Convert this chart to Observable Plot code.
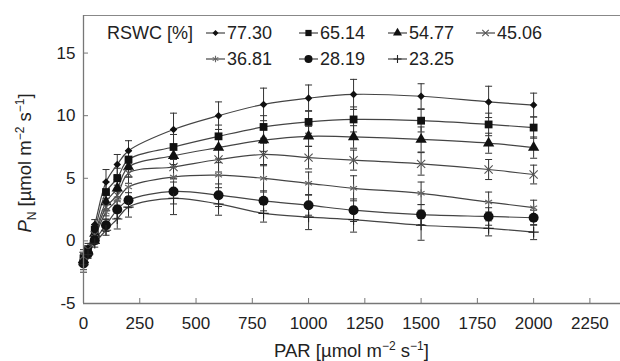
<!DOCTYPE html>
<html><head><meta charset="utf-8">
<script src="https://cdn.jsdelivr.net/npm/d3@7"></script>
<script src="https://cdn.jsdelivr.net/npm/@observablehq/plot@0.6"></script>
<style>
body{margin:0;background:#fff;font-family:"Liberation Sans",Arial,sans-serif;}
#chart svg{display:block;}
</style></head><body><div id="chart"></div>
<script>
// ---- data ----
const par = [0, 20, 50, 100, 150, 200, 400, 600, 800, 1000, 1200, 1500, 1800, 2000];
const seriesNames = ["77.30", "65.14", "54.77", "45.06", "36.81", "28.19", "23.25"];
const pn7730 = [-1.3, -0.6, 1.3, 4.7, 6.1, 7.2, 8.9, 10.0, 10.9, 11.4, 11.7, 11.55, 11.1, 10.85];
const pn6514 = [-1.4, -0.7, 0.9, 3.9, 5.0, 6.5, 7.5, 8.35, 9.1, 9.5, 9.7, 9.6, 9.3, 9.05];
const pn5477 = [-1.5, -0.8, 0.6, 3.1, 4.2, 5.9, 6.8, 7.45, 8.05, 8.35, 8.3, 8.1, 7.8, 7.45];
const pn4506 = [-1.2, -0.7, 0.45, 2.7, 3.65, 5.4, 5.9, 6.5, 6.9, 6.65, 6.45, 6.15, 5.7, 5.3];
const pn3681 = [-1.6, -0.9, 0.3, 2.3, 3.25, 4.3, 5.1, 5.25, 5.0, 4.6, 4.2, 3.8, 3.1, 2.65];
const pn2819 = [-1.8, -1.0, 0.05, 1.25, 2.5, 3.25, 3.95, 3.65, 3.2, 2.85, 2.45, 2.1, 1.95, 1.85];
const pn2325 = [-1.9, -1.1, -0.2, 0.85, 1.75, 2.7, 3.4, 2.95, 2.2, 1.9, 1.7, 1.25, 1.0, 0.7];
const sd7730 = [0.4, 0.4, 0.4, 1.0, 0.8, 0.8, 1.3, 1.1, 1.3, 1.05, 1.2, 1.0, 1.25, 0.95];
const sd6514 = [0.4, 0.3, 0.4, 0.8, 0.8, 0.7, 1.0, 0.9, 0.9, 0.9, 1.0, 0.9, 0.9, 0.85];
const sd5477 = [0.4, 0.3, 0.4, 0.7, 0.7, 0.8, 0.9, 0.9, 0.9, 0.8, 0.9, 1.0, 0.8, 0.85];
const sd4506 = [0.5, 0.3, 0.3, 0.7, 0.8, 0.8, 0.9, 1.0, 0.9, 0.9, 0.8, 0.9, 0.8, 0.75];
const sd3681 = [0.4, 0.3, 0.3, 0.6, 0.7, 0.8, 1.0, 1.0, 1.1, 0.9, 1.0, 0.9, 0.8, 0.6];
const sd2819 = [0.5, 0.3, 0.3, 0.5, 0.7, 0.6, 1.0, 0.9, 0.8, 0.8, 0.9, 0.8, 0.7, 0.6];
const sd2325 = [0.6, 0.3, 0.3, 0.4, 0.8, 0.8, 1.3, 0.9, 0.7, 1.0, 1.0, 1.2, 0.6, 0.6];
const xTicks = [0, 250, 500, 750, 1000, 1250, 1500, 1750, 2000, 2250];
const yTicks = [-5, 0, 5, 10, 15];
const legendTitle = "RSWC [%]";

// ---- styling ----
const means = [pn7730, pn6514, pn5477, pn4506, pn3681, pn2819, pn2325];
const sds = [sd7730, sd6514, sd5477, sd4506, sd3681, sd2819, sd2325];
const markerStyles = [
  {symbol: d3.symbolDiamond2, r: 3.4, fill: "#111", stroke: "none"},
  {symbol: d3.symbolSquare, r: 4.4, fill: "#111", stroke: "none"},
  {symbol: d3.symbolTriangle, r: 4.2, fill: "#111", stroke: "none"},
  {symbol: d3.symbolTimes, r: 3.8, fill: "none", stroke: "#555"},
  {symbol: d3.symbolAsterisk, r: 3.8, fill: "none", stroke: "#666"},
  {symbol: d3.symbolCircle, r: 5, fill: "#111", stroke: "none"},
  {symbol: d3.symbolPlus, r: 3.4, fill: "none", stroke: "#222"}
];
const legendScale = 0.8;
const capSymbol = {draw(ctx, size) { const w = Math.sqrt(size / Math.PI); ctx.moveTo(-w, 0); ctx.lineTo(w, 0); }};

const rows = [];
seriesNames.forEach((name, si) => {
  par.forEach((p, i) => rows.push({series: name, si, par: p, pn: means[si][i], sd: sds[si][i]}));
});

const W = 620, H = 361, mL = 83, mT = 15, mB = 58;
const xMax = 2386, yMin = -5, yMax = 18;
const font = "Liberation Sans, Arial, sans-serif";

const marks = [
  Plot.ruleY([yMax], {stroke: "#888", strokeWidth: 1.2}),
  // error bars
  Plot.ruleX(rows, {x: "par", y1: d => d.pn - d.sd, y2: d => d.pn + d.sd, stroke: "#333", strokeWidth: 1}),
  Plot.dot(rows, {x: "par", y: d => d.pn + d.sd, symbol: capSymbol, r: 3.5, stroke: "#333", strokeWidth: 1, fill: "none"}),
  Plot.dot(rows, {x: "par", y: d => d.pn - d.sd, symbol: capSymbol, r: 3.5, stroke: "#333", strokeWidth: 1, fill: "none"}),
  // lines
  Plot.line(rows, {x: "par", y: "pn", z: "series", curve: "catmull-rom", stroke: "#444", strokeWidth: 1.2})
];
markerStyles.forEach((m, si) => {
  marks.push(Plot.dot(rows.filter(d => d.si === si), {x: "par", y: "pn", symbol: m.symbol, r: m.r, fill: m.fill, stroke: m.stroke, strokeWidth: 1.1}));
});
marks.push(
  Plot.ruleX([0], {stroke: "#777", strokeWidth: 1.3}),
  Plot.ruleY([yMin], {stroke: "#777", strokeWidth: 1.3}),
  Plot.ruleX(xTicks, {x: d => d, y1: yMin, y2: yMin, insetTop: -5, stroke: "#777"}),
  Plot.ruleY(yTicks, {y: d => d, x1: 0, x2: 0, insetRight: -5, stroke: "#777"}),
  Plot.axisX({ticks: xTicks, tickSize: 0, tickPadding: 13, tickFormat: d => String(d), fontSize: 17, label: null}),
  Plot.axisY({ticks: yTicks, tickSize: 0, tickPadding: 8, tickFormat: d => String(d), fontSize: 17, label: null})
);

const plot = Plot.plot({
  width: W, height: H, marginLeft: mL, marginTop: mT, marginBottom: mB, marginRight: 0,
  style: {fontFamily: font, fontSize: "17px", color: "#222", background: "white", overflow: "visible"},
  x: {domain: [0, xMax]},
  y: {domain: [yMin, yMax]},
  marks
});
document.getElementById("chart").appendChild(plot);

// ---- axis titles & legend (real text) ----
const svg = d3.select(plot);
const sup = (sel, t) => sel.append("tspan").attr("font-size", 12).attr("dy", -7.5).text(t);
const down = (sel, t) => sel.append("tspan").attr("dy", 7.5).text(t);

const xt = svg.append("text").attr("x", (mL + W) / 2).attr("y", 357).attr("text-anchor", "middle")
  .attr("font-size", 18.5).attr("fill", "#222").attr("font-family", font);
xt.append("tspan").text("PAR [µmol m");
sup(xt, "−2"); down(xt, " s"); sup(xt, "−1"); down(xt, "]");

const yt = svg.append("text").attr("transform", `translate(31,${(mT + H - mB) / 2 + 4}) rotate(-90)`)
  .attr("text-anchor", "middle").attr("font-size", 18.5).attr("fill", "#222").attr("font-family", font);
yt.append("tspan").attr("font-style", "italic").text("P");
yt.append("tspan").attr("font-size", 12).attr("dy", 4.5).text("N");
yt.append("tspan").attr("dy", -4.5).text(" [µmol m");
sup(yt, "−2"); down(yt, " s"); sup(yt, "−1"); down(yt, "]");

const lg = svg.append("g").attr("font-family", font).attr("font-size", 18).attr("fill", "#222").attr("text-anchor", "start");
lg.append("text").attr("x", 107).attr("y", 33).attr("dy", "0.35em").text(legendTitle);
const colX = [227, 320, 409, 497];
const rowY = [33, 59];
seriesNames.forEach((name, si) => {
  const r = si < 4 ? 0 : 1, c = si < 4 ? si : si - 4;
  const tx = colX[c], ty = rowY[r];
  lg.append("line").attr("x1", tx - 21).attr("x2", tx - 2).attr("y1", ty).attr("y2", ty).attr("stroke", "#444").attr("stroke-width", 1.2);
  const m = markerStyles[si];
  const rr = m.r * legendScale;
  lg.append("path").attr("d", d3.symbol().type(m.symbol).size(Math.PI * rr * rr)())
    .attr("transform", `translate(${tx - 11.5},${ty})`).attr("fill", m.fill).attr("stroke", m.stroke).attr("stroke-width", 1.1);
  lg.append("text").attr("x", tx).attr("y", ty).attr("dy", "0.35em").text(name);
});
</script></body></html>
